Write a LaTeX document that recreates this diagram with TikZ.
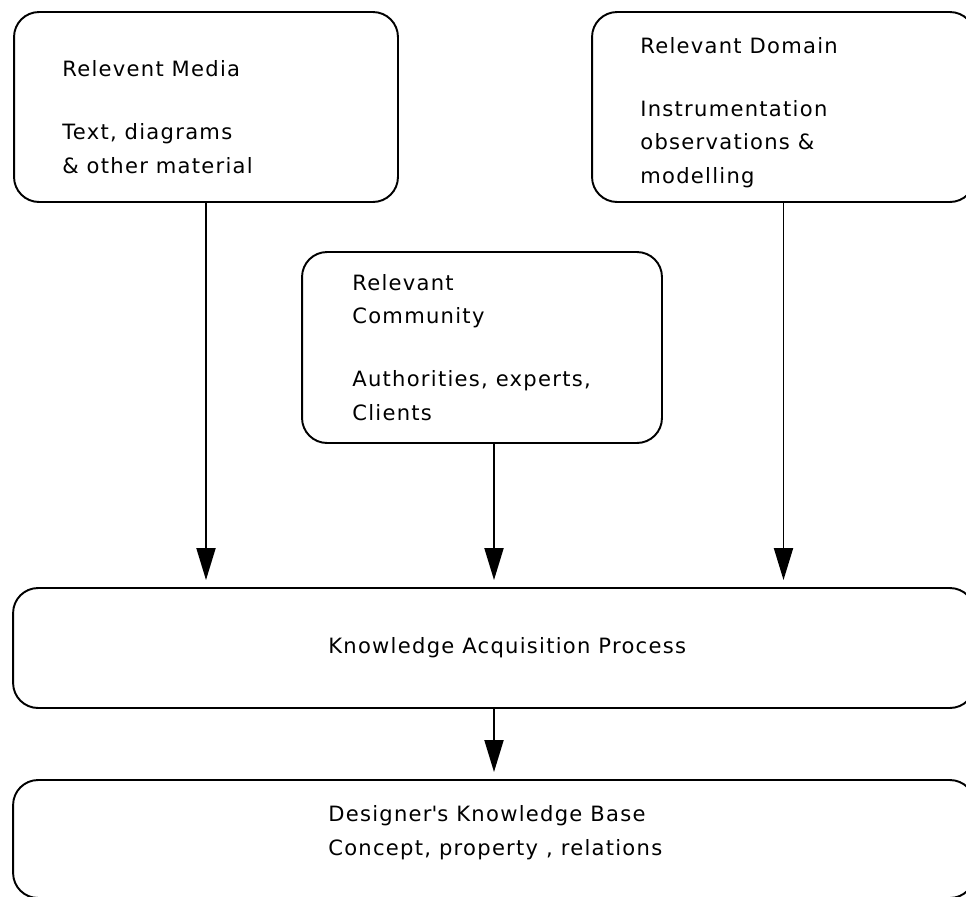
\documentclass[tikz,border=0pt]{standalone}
\usepackage{fontspec}
\setmainfont{DejaVu Sans}[LetterSpace=6]
\usetikzlibrary{arrows.meta}

\begin{document}
\begin{tikzpicture}[x=0.02cm,y=-0.02cm,
  box/.style={draw,line width=1.1pt,rounded corners=0.5cm,inner sep=0pt},
  txt/.style={anchor=base west,align=left,inner sep=0pt,font=\fontsize{12}{18.8}\selectfont},
  arr/.style={line width=1.1pt,-{Triangle[length=0.64cm,width=0.38cm]},shorten >=0.14cm}]
\useasboundingbox (0,0) rectangle (966,896);
\clip (0,0) rectangle (966,896);
\node[box,minimum width=7.68cm,minimum height=3.8cm] (media) at (206,107) {};
\node[box,minimum width=7.66cm,minimum height=3.8cm] (domain) at (783.5,107) {};
\node[box,minimum width=7.2cm,minimum height=3.82cm] (community) at (482,347.5) {};
\node[box,minimum width=19.24cm,minimum height=2.4cm] (kap) at (494,648) {};
\node[box,minimum width=19.24cm,minimum height=2.36cm] (base) at (494,839) {};
\node[txt] (mediatxt) at (62,173) {Relevent Media\\[0.6cm]Text, diagrams\\\& other material};
\node[txt] (domaintxt) at (640,183) {Relevant Domain\\[0.6cm]Instrumentation\\observations \&\\modelling};
\node[txt] (communitytxt) at (352,420) {Relevant\\Community\\[0.6cm]Authorities, experts,\\Clients};
\node[txt] (kaptxt) at (328,653) {Knowledge Acquisition Process};
\node[txt] (basetxt) at (328,855) {Designer\textquotesingle s Knowledge Base\\Concept, property , relations};
\draw[arr] (media.south) -- (media.south |- kap.north);
\draw[arr] ([xshift=0.24cm]community.south) -- ([xshift=0.24cm]community.south |- kap.north);
\draw[arr] (domain.south) -- (domain.south |- kap.north);
\draw[arr] (kap.south) -- (base.north);
\end{tikzpicture}
\end{document}
